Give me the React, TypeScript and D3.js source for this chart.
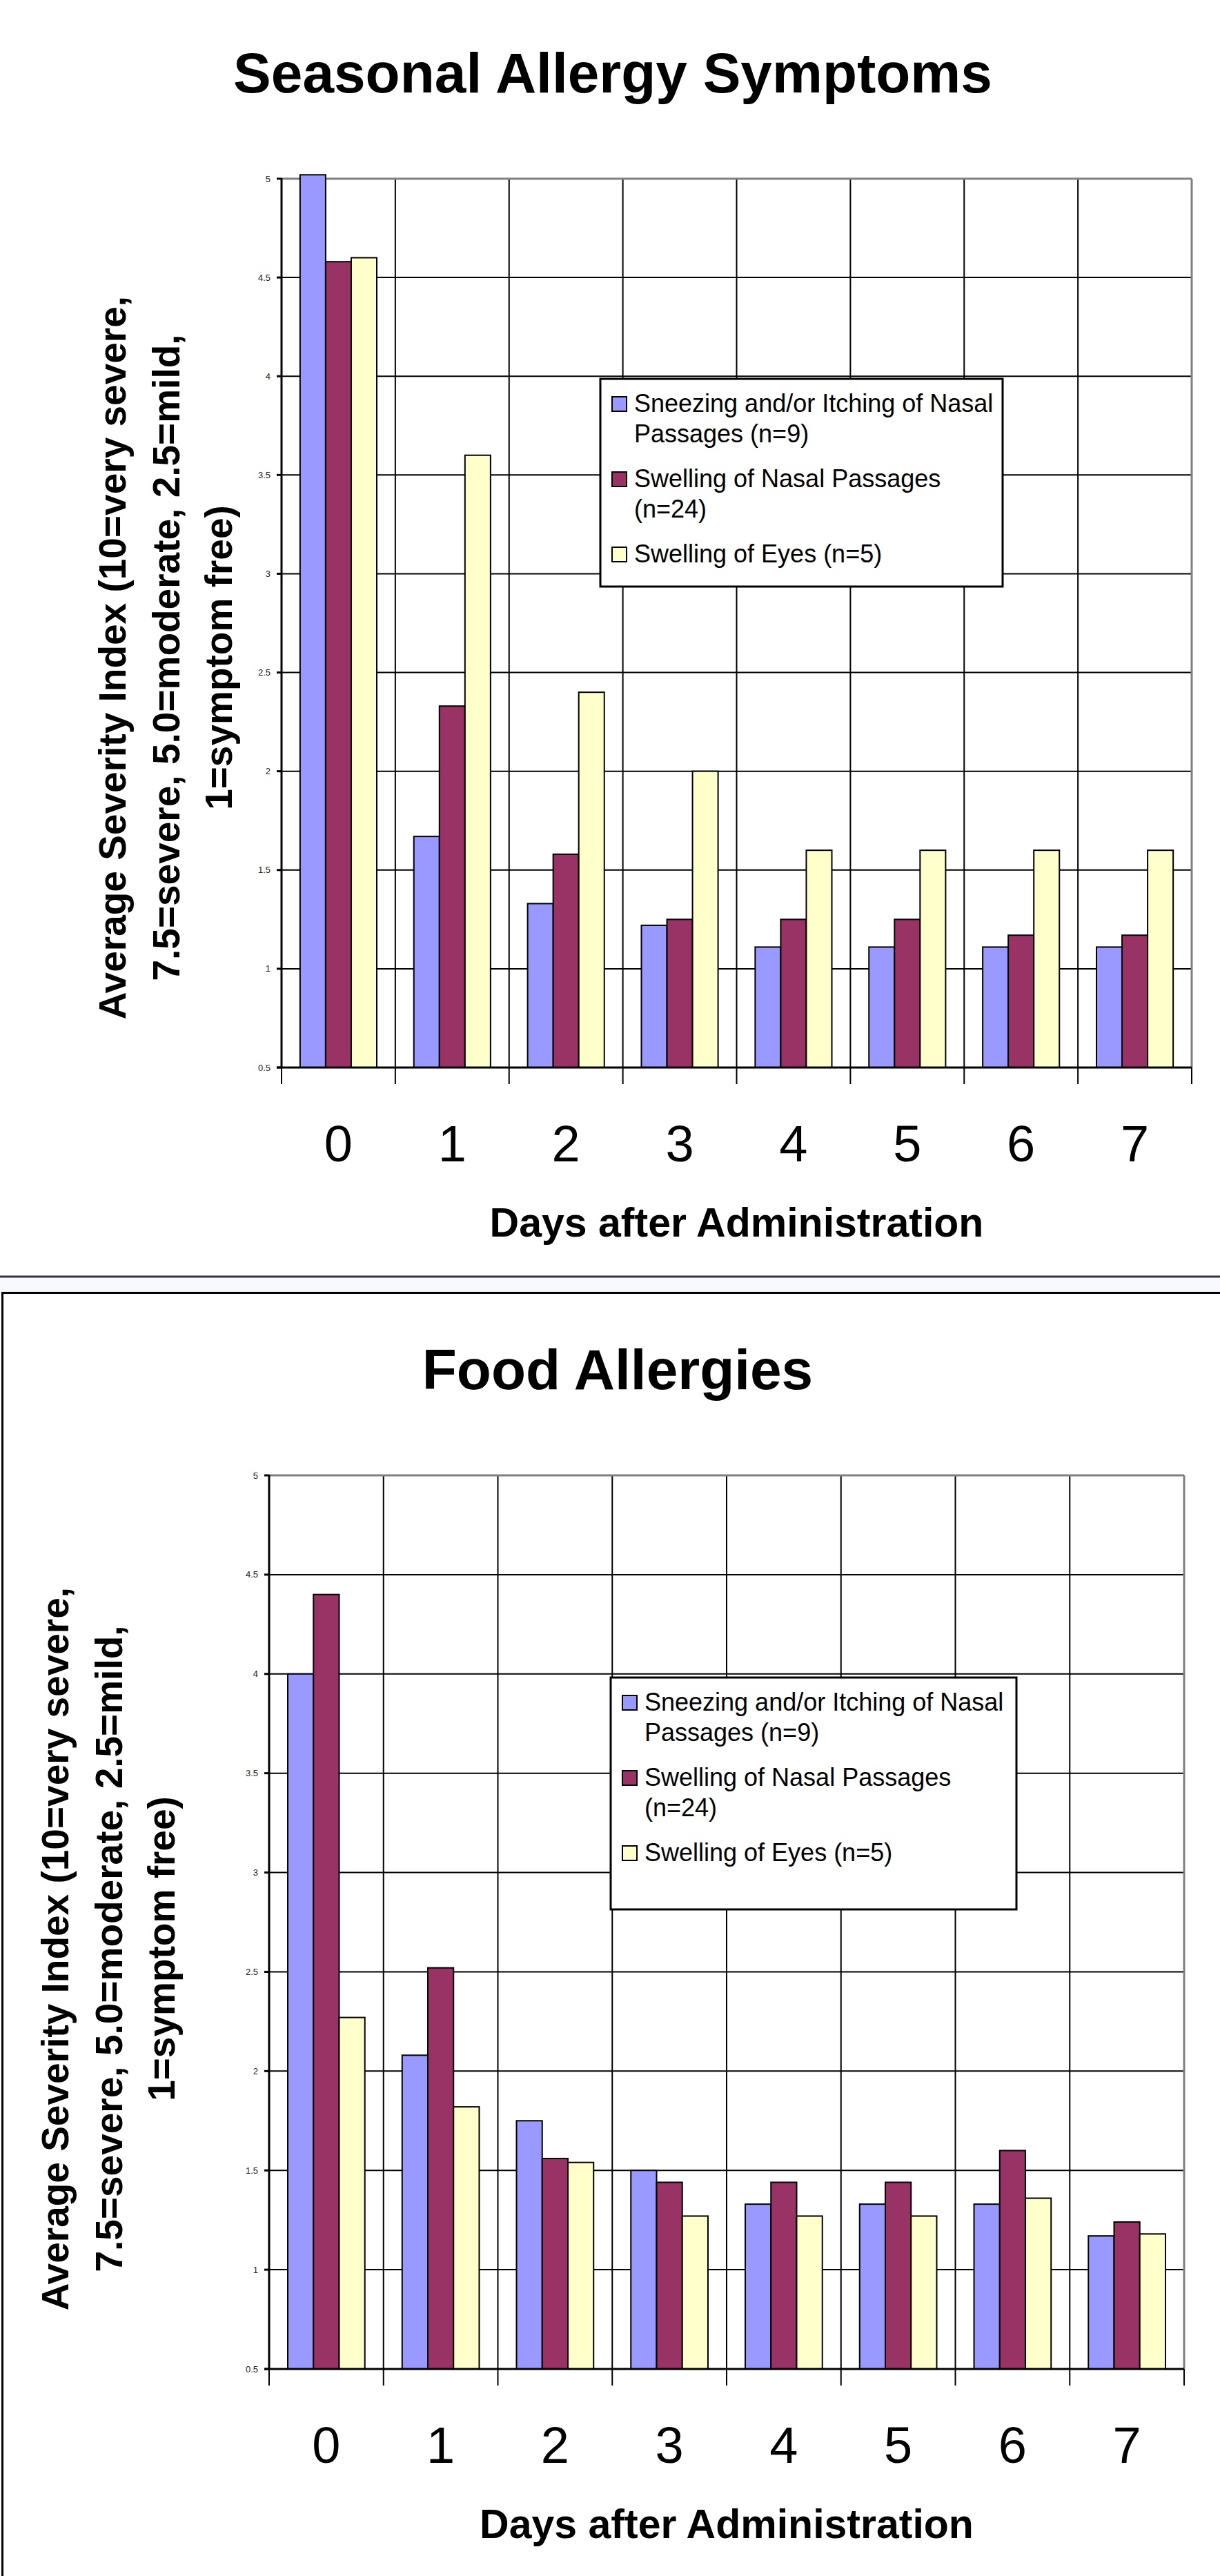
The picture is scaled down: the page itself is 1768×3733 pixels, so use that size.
import React from "react";
import * as d3 from "d3";

const days = ["0", "1", "2", "3", "4", "5", "6", "7"];
const legendLines = [
  ["Sneezing and/or Itching of Nasal", "Passages (n=9)"],
  ["Swelling of Nasal Passages", "(n=24)"],
  ["Swelling of Eyes (n=5)"],
];
const seriesColors = ["#9999FF", "#993366", "#FFFFCC"];
const yTicks = [0.5, 1, 1.5, 2, 2.5, 3, 3.5, 4, 4.5, 5];
const yLabelLines = [
  "Average Severity Index (10=very severe,",
  "7.5=severe, 5.0=moderate, 2.5=mild,",
  "1=symptom free)",
];
const xTitle = "Days after Administration";

const seasonalSneezing = [5.02, 1.67, 1.33, 1.22, 1.11, 1.11, 1.11, 1.11];
const seasonalNasal = [4.58, 2.33, 1.58, 1.25, 1.25, 1.25, 1.17, 1.17];
const seasonalEyes = [4.6, 3.6, 2.4, 2.0, 1.6, 1.6, 1.6, 1.6];

const foodSneezing = [4.0, 2.08, 1.75, 1.5, 1.33, 1.33, 1.33, 1.17];
const foodNasal = [4.4, 2.52, 1.56, 1.44, 1.44, 1.44, 1.6, 1.24];
const foodEyes = [2.27, 1.82, 1.54, 1.27, 1.27, 1.27, 1.36, 1.18];

const FONT = "'Liberation Sans', Arial, Helvetica, sans-serif";

type Layout = {
  title: string;
  titleX: number;
  titleY: number;
  left: number;
  right: number;
  top: number;
  bottom: number;
  yLabelX: number[];
  yLabelCY: number;
  legend: { x: number; y: number; w: number; h: number };
};

function Chart({ layout, series }: { layout: Layout; series: number[][] }) {
  const { left, right, top, bottom } = layout;
  const x = d3.scaleBand<string>().domain(days).range([left, right]).paddingInner(0).paddingOuter(0);
  const bw = x.bandwidth();
  const inner = d3
    .scaleBand<number>()
    .domain([0, 1, 2])
    .range([bw * 0.163, bw * 0.837])
    .padding(0);
  const y = d3.scaleLinear().domain([0.5, 5]).range([bottom, top]);
  const boundaries = days.map((d) => x(d) as number).concat([right]);

  const lg = layout.legend;
  const lineH = 44;
  const gap = 21;
  let cursor = 48;
  const legendItems = legendLines.map((lines, i) => {
    const base = cursor;
    cursor += lines.length * lineH + gap;
    return { lines, base, i };
  });

  return (
    <g>
      <text
        x={layout.titleX}
        y={layout.titleY}
        textAnchor="middle"
        fontFamily={FONT}
        fontWeight="bold"
        fontSize={82}
      >
        {layout.title}
      </text>

      <rect x={left} y={top} width={right - left} height={bottom - top} fill="#fff" />

      {yTicks.slice(1, -1).map((t) => (
        <line key={"h" + t} x1={left} x2={right} y1={y(t)} y2={y(t)} stroke="#000" strokeWidth={2} />
      ))}
      {boundaries.slice(1, -1).map((b, i) => (
        <line key={"v" + i} x1={b} x2={b} y1={top} y2={bottom} stroke="#000" strokeWidth={2} />
      ))}
      <line x1={left} x2={right} y1={top} y2={top} stroke="#808080" strokeWidth={3} />
      <line x1={right} x2={right} y1={top} y2={bottom} stroke="#808080" strokeWidth={3} />

      {series.map((vals, si) =>
        vals.map((v, di) => {
          const bx = (x(days[di]) as number) + (inner(si) as number);
          return (
            <rect
              key={"b" + si + "-" + di}
              x={bx}
              y={y(v)}
              width={inner.bandwidth()}
              height={bottom - y(v)}
              fill={seriesColors[si]}
              stroke="#000"
              strokeWidth={2}
            />
          );
        })
      )}

      <line x1={left} x2={left} y1={top - 1} y2={bottom} stroke="#000" strokeWidth={3} />
      {yTicks.map((t) => (
        <g key={"yt" + t}>
          <line x1={left - 7} x2={left} y1={y(t)} y2={y(t)} stroke="#000" strokeWidth={3} />
          <text
            x={left - 16}
            y={y(t)}
            dy="0.35em"
            textAnchor="end"
            fontFamily={FONT}
            fontSize={13}
            fill="#222"
          >
            {String(t)}
          </text>
        </g>
      ))}
      <line x1={left - 7} x2={right} y1={bottom} y2={bottom} stroke="#000" strokeWidth={3} />
      {boundaries.map((b, i) => (
        <line key={"xt" + i} x1={b} x2={b} y1={bottom} y2={bottom + 24} stroke="#000" strokeWidth={2} />
      ))}
      {days.map((d) => (
        <text
          key={"xl" + d}
          x={(x(d) as number) + bw / 2}
          y={bottom + 136}
          textAnchor="middle"
          fontFamily={FONT}
          fontSize={74}
        >
          {d}
        </text>
      ))}

      <text
        x={(left + right) / 2}
        y={bottom + 245}
        textAnchor="middle"
        fontFamily={FONT}
        fontWeight="bold"
        fontSize={59}
      >
        {xTitle}
      </text>
      {yLabelLines.map((ln, i) => (
        <text
          key={"yl" + i}
          transform={`translate(${layout.yLabelX[i]},${layout.yLabelCY}) rotate(-90)`}
          textAnchor="middle"
          fontFamily={FONT}
          fontWeight="bold"
          fontSize={55}
        >
          {ln}
        </text>
      ))}

      <rect x={lg.x} y={lg.y} width={lg.w} height={lg.h} fill="#fff" stroke="#000" strokeWidth={3} />
      {legendItems.map((it) => (
        <g key={"lg" + it.i}>
          <rect
            x={lg.x + 17}
            y={lg.y + it.base - 22}
            width={21}
            height={21}
            fill={seriesColors[it.i]}
            stroke="#000"
            strokeWidth={2}
          />
          {it.lines.map((l, li) => (
            <text
              key={li}
              x={lg.x + 49}
              y={lg.y + it.base + li * lineH}
              fontFamily={FONT}
              fontSize={36}
            >
              {l}
            </text>
          ))}
        </g>
      ))}
    </g>
  );
}

const topLayout: Layout = {
  title: "Seasonal Allergy Symptoms",
  titleX: 888,
  titleY: 134,
  left: 408,
  right: 1727,
  top: 259,
  bottom: 1547,
  yLabelX: [182, 260, 336],
  yLabelCY: 953,
  legend: { x: 870, y: 549, w: 583, h: 301 },
};

const bottomLayout: Layout = {
  title: "Food Allergies",
  titleX: 895,
  titleY: 2013,
  left: 390,
  right: 1716,
  top: 2138,
  bottom: 3433,
  yLabelX: [99, 177, 253],
  yLabelCY: 2824,
  legend: { x: 885, y: 2431, w: 588, h: 336 },
};

export default function App() {
  return (
    <svg
      width={1768}
      height={3733}
      viewBox="0 0 1768 3733"
      style={{ position: "absolute", left: 0, top: 0, background: "#fff" }}
    >
      <rect x={0} y={0} width={1768} height={3733} fill="#fff" />
      <Chart layout={topLayout} series={[seasonalSneezing, seasonalNasal, seasonalEyes]} />
      <line x1={0} x2={1768} y1={1850} y2={1850} stroke="#333" strokeWidth={3} />
      <rect x={0} y={1852} width={1768} height={20} fill="#f8f9ff" />
      <rect x={3.5} y={1873.5} width={1800} height={2000} fill="none" stroke="#000" strokeWidth={3} />
      <Chart layout={bottomLayout} series={[foodSneezing, foodNasal, foodEyes]} />
    </svg>
  );
}
